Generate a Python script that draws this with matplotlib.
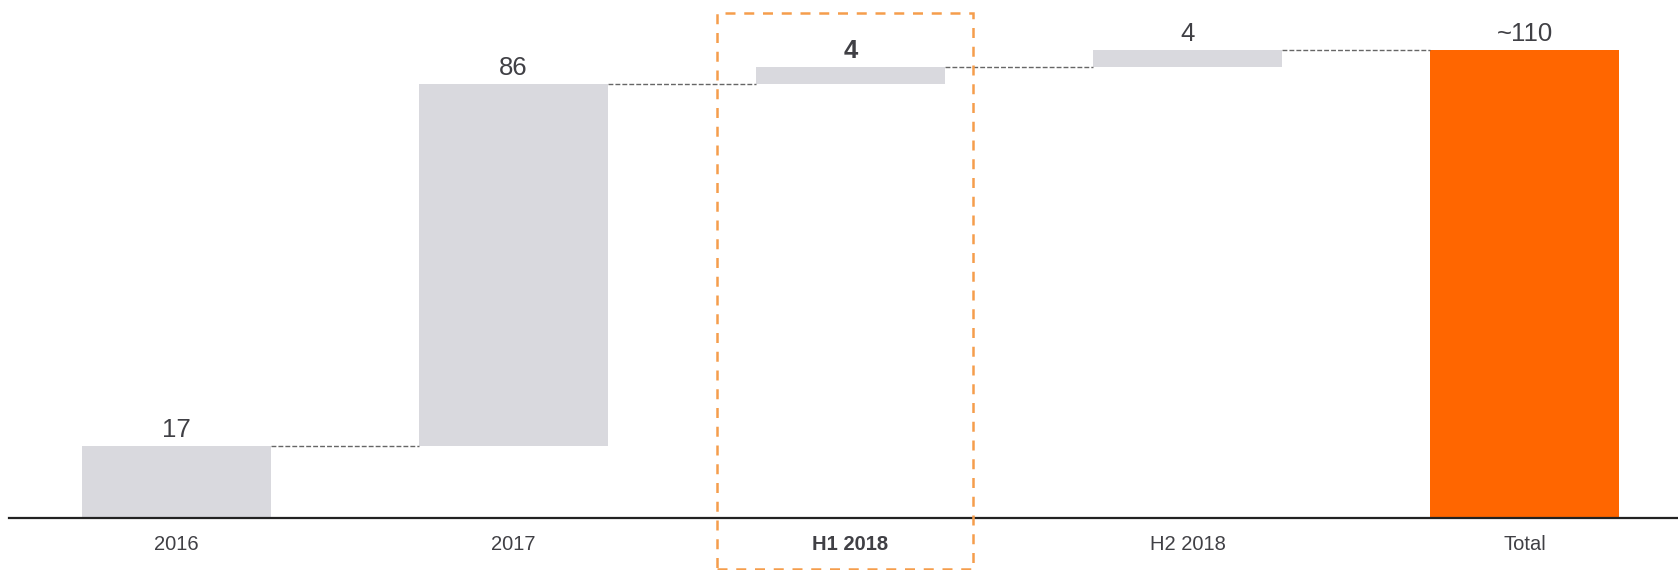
import numpy as np
import matplotlib.pyplot as plt
from matplotlib.patches import Rectangle

plt.rcParams['font.family'] = ['Liberation Sans', 'DejaVu Sans']

# data
categories = ['2016', '2017', 'H1 2018', 'H2 2018', 'Total']
steps = [17, 86, 4, 4]
value_labels = ['17', '86', '4', '4', '~110']
highlight = 'H1 2018'

total = sum(steps)
bottoms = list(np.cumsum([0] + steps[:-1])) + [0]
heights = steps + [total]
tops = [b + h for b, h in zip(bottoms, heights)]

grey = '#d9d9de'
orange = '#ff6600'
txt = '#404045'

fig = plt.figure(figsize=(16.78, 5.70), dpi=100)
ax = fig.add_axes([9 / 1678, 1 - 518 / 570, 1669 / 1678, 518 / 570])

x = np.arange(len(categories))
w = 0.561
colors = [grey] * len(steps) + [orange]
ax.bar(x, heights, bottom=bottoms, width=w, color=colors, linewidth=0)

# connectors between bars
for i in range(len(categories) - 1):
    level = tops[i] if i < len(steps) else total
    ax.plot([x[i] + w / 2, x[i + 1] - w / 2], [level, level],
            color='#666666', lw=1, ls=(0, (3.5, 1.5)))

# value labels
for i, lab in enumerate(value_labels):
    bold = categories[i] == highlight
    ax.annotate(lab, (x[i], tops[i]), xytext=(0, 3), textcoords='offset points',
                ha='center', va='bottom', fontsize=18.5, color=txt,
                fontweight='bold' if bold else 'normal')

ax.set_xlim((9 - 176.5) / 337, (1678 - 176.5) / 337)
ax.set_ylim(0, 518 / 4.216)
ax.set_xticks(x)
ax.set_xticklabels(categories, fontsize=14.5, color=txt)
for t in ax.get_xticklabels():
    if t.get_text() == highlight:
        t.set_fontweight('bold')
ax.tick_params(axis='x', length=0, pad=12)
ax.set_yticks([])
for s in ['top', 'right', 'left']:
    ax.spines[s].set_visible(False)
ax.spines['bottom'].set_color('#222222')
ax.spines['bottom'].set_linewidth(1.6)

# highlight box around H1 2018
fig.patches.append(Rectangle((717 / 1678, 1 - 569 / 570), 256 / 1678, 556 / 570,
                             transform=fig.transFigure, fill=False,
                             edgecolor='#f59d4c', lw=1.8, ls=(0, (4, 3.5))))

fig.savefig('out.png', dpi=100)
